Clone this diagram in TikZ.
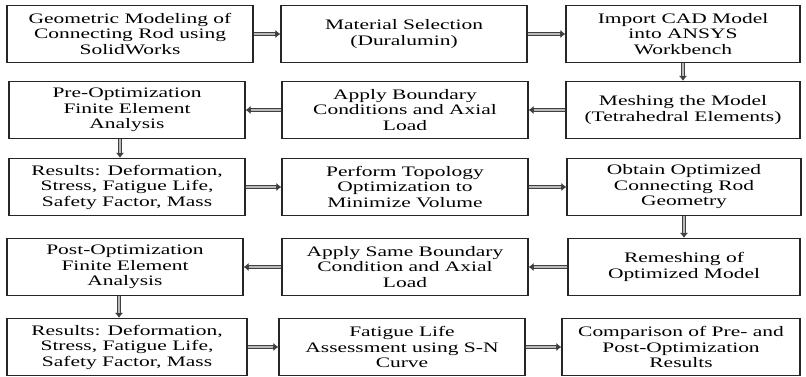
\documentclass[tikz,border=0pt]{standalone}
\usepackage{fontspec}
\setmainfont{Liberation Serif}[FakeStretch=1.48]
\usetikzlibrary{arrows.meta,positioning}

\begin{document}
\begin{tikzpicture}[x=1pt, y=-1pt,
    stepbox/.style={draw=black!85, line width=1.3pt, rectangle, fill=white, minimum width=236pt, minimum height=57pt, align=center, inner sep=2pt, font=\fontsize{14.5}{15.5}\selectfont},
    flow/.style={draw=black!75, line width=3.6pt, -{Latex[length=5pt, width=8.5pt]},
        postaction={draw=gray!55, line width=1.4pt, -, shorten >=5pt}},
]
\useasboundingbox (0,0) rectangle (806,377);

% Row 1
\node[stepbox, minimum width=246pt] (geom) at (130, 34) {Geometric Modeling of\\Connecting Rod using\\SolidWorks};
\node[stepbox, minimum width=246pt] (mat) at (404, 34) {Material Selection\\(Duralumin)};
\node[stepbox, minimum width=234pt] (cad) at (683, 34) {Import CAD Model\\into ANSYS\\Workbench};

% Row 2
\node[stepbox] (prefea) at (127, 110) {Pre-Optimization\\Finite Element\\Analysis};
\node[stepbox, minimum width=246pt] (bc) at (405, 110) {Apply Boundary\\Conditions and Axial\\Load};
\node[stepbox, minimum width=234pt] (mesh) at (683, 110) {Meshing the Model\\(Tetrahedral Elements)};

% Row 3
\node[stepbox] (res1) at (127, 187) {Results: Deformation,\\Stress, Fatigue Life,\\Safety Factor, Mass};
\node[stepbox, minimum width=246pt] (topo) at (405, 187) {Perform Topology\\Optimization to\\Minimize Volume};
\node[stepbox, minimum width=234pt] (optgeo) at (684, 187) {Obtain Optimized\\Connecting Rod\\Geometry};

% Row 4
\node[stepbox] (postfea) at (125, 267) {Post-Optimization\\Finite Element\\Analysis};
\node[stepbox, minimum width=246pt] (samebc) at (405, 267) {Apply Same Boundary\\Condition and Axial\\Load};
\node[stepbox, minimum width=232pt] (remesh) at (684, 267) {Remeshing of\\Optimized Model};

% Row 5
\node[stepbox, minimum width=240pt] (res2) at (127, 347) {Results: Deformation,\\Stress, Fatigue Life,\\Safety Factor, Mass};
\node[stepbox, minimum width=246pt] (sn) at (402, 347) {Fatigue Life\\Assessment using S-N\\Curve};
\node[stepbox, minimum width=238pt] (comp) at (681, 347) {Comparison of Pre- and\\Post-Optimization\\Results};

% Connectors
\draw[flow] (geom) -- (mat);
\draw[flow] (mat) -- (cad);
\draw[flow] (cad) -- (mesh);
\draw[flow] (mesh) -- (bc);
\draw[flow] (bc) -- (prefea);
\draw[flow] ([xshift=-7pt]prefea.south) -- ([xshift=-7pt]res1.north);
\draw[flow] (res1) -- (topo);
\draw[flow] (topo) -- (optgeo);
\draw[flow] (optgeo) -- (remesh);
\draw[flow] (remesh) -- (samebc);
\draw[flow] (samebc) -- (postfea);
\draw[flow] ([xshift=-6pt]postfea.south) -- ([xshift=-8pt]res2.north);
\draw[flow] (res2) -- (sn);
\draw[flow] (sn) -- (comp);

\end{tikzpicture}
\end{document}
